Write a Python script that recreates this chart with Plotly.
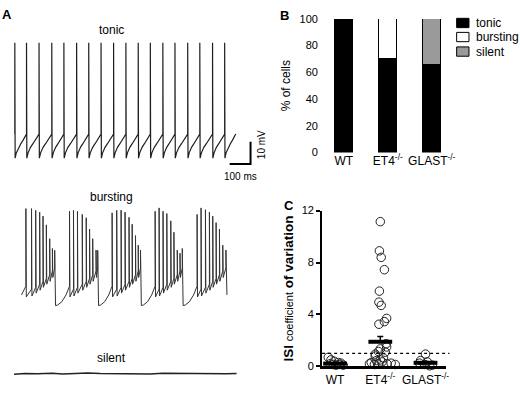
import plotly.graph_objects as go

W, H = 520, 396

# ---------------- Panel A : recordings (ms / mV) ----------------
tonic_spike_ms = [71, 127, 187, 248, 306, 367, 425, 484, 544, 603, 662, 720, 780, 838, 899, 957, 1018, 1076]
tonic_end_ms = 1129
tonic_peak_mV = 5.0
tonic_threshold_mV = -35.9
tonic_trough_mV = -46.7
ramp_shape_t = [0.0, 0.1, 0.3, 0.5, 0.7, 0.9, 1.0]
ramp_shape_v = [0.0, 0.22, 0.45, 0.6, 0.75, 0.92, 1.0]

burst_spike_ms = [
    [124, 151, 171, 190, 206, 222, 238, 251, 262],
    [333, 352, 371, 394, 413, 429, 444, 460, 468],
    [537, 559, 580, 599, 618, 633, 649, 662, 673],
    [743, 762, 781, 799, 818, 833, 849, 862, 873],
    [944, 963, 984, 1003, 1019, 1035, 1051, 1067, 1082],
]
burst_peak_mV = [
    [4.6, 4.6, 3.8, 3.0, 1.2, -2.7, -8.9, -13.3, -14.1],
    [3.4, 3.8, 3.4, 2.0, 0.5, -4.6, -8.9, -14.0, -14.1],
    [2.7, 3.8, 3.9, 3.0, 0.7, -2.4, -7.5, -11.8, -14.0],
    [3.4, 4.9, 3.4, 2.4, -0.9, -6.0, -14.0, -15.4, -13.3],
    [2.0, 4.9, 4.1, 3.0, 1.2, -1.7, -4.6, -11.8, -14.0],
]
burst_base_mV = [-30.2, -31.5, -30.7, -29.3, -28.0, -26.7, -25.0, -23.3, -22.0]
burst_trough_mV = [-35.0, -34.6, -33.3, -32.0, -30.7, -29.3, -28.0, -26.3, -38.9]
burst_start_ms, burst_start_mV = 103, -34.1
burst_end_ms, burst_end_mV = 1087, -34.1
interburst_shape_t = [0.15, 0.45, 0.75]
interburst_shape_v = [0.03, 0.2, 0.55]

silent_ms = [67, 120, 180, 250, 300, 360, 420, 480, 540, 600, 660, 720, 780, 840, 900, 960, 1020, 1080, 1133]
silent_mV = [-49.9, -49.6, -49.7, -49.5, -49.8, -49.6, -49.4, -49.6, -49.7, -49.5,
             -49.6, -49.8, -49.5, -49.6, -49.7, -49.5, -49.6, -49.7, -49.6]

scalebar_ms = 100
scalebar_mV = 10

# ---------------- Panel B : firing pattern (% of cells) ----------------
genotype_labels = ["WT", "ET4<sup>-/-</sup>", "GLAST<sup>-/-</sup>"]
pct_tonic = [100, 70, 66]
pct_bursting = [0, 30, 0]
pct_silent = [0, 0, 34]
pattern_names = ["tonic", "bursting", "silent"]
pattern_colors = ["black", "white", "#9a9a9a"]

# ---------------- Panel C : ISI coefficient of variation ----------------
wt_cv = [0.7, 0.5, 0.4, 0.3, 0.25, 0.2, 0.15, 0.15, 0.1, 0.1]
wt_jitter = [-0.15, -0.09, -0.02, 0.07, 0.13, -0.11, -0.04, 0.09, 0.18, 0.02]
et4_cv = [11.15, 8.9, 8.4, 7.45, 5.8, 4.95, 4.7, 3.7, 3.45, 3.25, 1.75, 1.5, 1.35, 1.15,
          1.1, 0.95, 0.8, 0.65, 0.5, 0.45, 0.35, 0.3, 0.25, 0.2, 0.2, 0.18, 0.15, 0.15]
et4_jitter = [0, -0.02, 0.02, 0.09, -0.02, -0.03, 0.02, 0.14, 0.09, -0.03, 0.13, 0.14, 0, -0.04,
              0.11, -0.11, -0.11, 0.07, 0, -0.09, 0.04, -0.2, 0.24, -0.24, 0.15, -0.04, 0.33, -0.13]
glast_cv = [0.95, 0.45, 0.35, 0.25, 0.15, 0.1, 0.05]
glast_jitter = [0, -0.11, 0.04, -0.13, -0.02, 0.15, 0.09]
cv_mean = [0.22, 1.9, 0.28]
cv_sem = [0.03, 0.4, 0.1]
cv_threshold = 1.0
cv_ticks = [0, 4, 8, 12]


def px_x(p):
    return p / W


def px_y(p):
    return 1 - p / H


PX_PER_MS = 0.21
PX_PER_MV = 2.3
FONT = "Liberation Sans, Arial, sans-serif"

fig = go.Figure()

# tonic trace
tx, ty = [], []
cycle_next = tonic_spike_ms[1:] + [tonic_end_ms]
for t, t_next in zip(tonic_spike_ms, cycle_next):
    tx += [t, t, t + 1.5]
    ty += [tonic_threshold_mV, tonic_peak_mV, tonic_trough_mV]
    t0 = t + 1.5
    for ft, fv in zip(ramp_shape_t[1:-1], ramp_shape_v[1:-1]):
        tx.append(t0 + ft * (t_next - t0))
        ty.append(tonic_trough_mV + fv * (tonic_threshold_mV - tonic_trough_mV))
tx.append(tonic_end_ms)
ty.append(tonic_threshold_mV)
fig.add_trace(go.Scatter(x=tx, y=ty, mode="lines", line=dict(color="#1e1e1e", width=1.2),
                         xaxis="x", yaxis="y", hoverinfo="skip"))

# scale bar (in tonic axes)
sb_x1 = 1200
sb_y0 = -49.35
fig.add_trace(go.Scatter(x=[sb_x1 - scalebar_ms, sb_x1, sb_x1],
                         y=[sb_y0, sb_y0, sb_y0 + scalebar_mV],
                         mode="lines", line=dict(color="black", width=2),
                         xaxis="x", yaxis="y", hoverinfo="skip", cliponaxis=False))

# bursting trace
bx, by = [burst_start_ms], [burst_start_mV]
nb = len(burst_spike_ms)
for b in range(nb):
    times = burst_spike_ms[b]
    peaks = burst_peak_mV[b]
    for i, (t, pk) in enumerate(zip(times, peaks)):
        bx += [t, t]
        by += [burst_base_mV[i], pk]
        last = i == len(times) - 1
        if not last:
            bx.append(t + 2)
            by.append(burst_trough_mV[i])
        elif b < nb - 1:
            t0 = t + 4
            bx.append(t0)
            by.append(burst_trough_mV[i])
            t1 = burst_spike_ms[b + 1][0]
            for ft, fv in zip(interburst_shape_t, interburst_shape_v):
                bx.append(t0 + ft * (t1 - t0))
                by.append(burst_trough_mV[i] + fv * (burst_base_mV[0] - burst_trough_mV[i]))
bx.append(burst_end_ms)
by.append(burst_end_mV)
fig.add_trace(go.Scatter(x=bx, y=by, mode="lines", line=dict(color="#333", width=1),
                         xaxis="x2", yaxis="y2", hoverinfo="skip"))

# silent trace
fig.add_trace(go.Scatter(x=silent_ms, y=silent_mV, mode="lines", line=dict(color="#222", width=1.4),
                         xaxis="x3", yaxis="y3", hoverinfo="skip"))

# Panel B bars
for vals, name, col in zip([pct_tonic, pct_bursting, pct_silent], pattern_names, pattern_colors):
    fig.add_trace(go.Bar(x=genotype_labels, y=vals, name=name, width=0.414,
                         marker=dict(color=col, line=dict(color="black", width=1)),
                         xaxis="x4", yaxis="y4"))

# Panel C points
for gi, (vals, jit) in enumerate([(wt_cv, wt_jitter), (et4_cv, et4_jitter), (glast_cv, glast_jitter)]):
    fig.add_trace(go.Scatter(x=[gi + j for j in jit], y=vals, mode="markers",
                             marker=dict(symbol="circle-open", size=8.5, color="#222", line=dict(width=1)),
                             xaxis="x5", yaxis="y5", cliponaxis=False))
fig.add_trace(go.Scatter(x=[0, 1, 2], y=cv_mean, mode="markers",
                         marker=dict(symbol="line-ew", size=17, line=dict(width=4, color="black")),
                         error_y=dict(type="data", array=cv_sem, arrayminus=[0, 0, 0], symmetric=False,
                                      width=3, thickness=1.5, color="black"),
                         xaxis="x5", yaxis="y5", cliponaxis=False))

# axis ranges for panel A (same scale for all three traces)
x_range_A = [0, 273 / PX_PER_MS]


def mv_range(top_px, bottom_px, ref_px, ref_mV):
    return [ref_mV - (bottom_px - ref_px) / PX_PER_MV, ref_mV + (ref_px - top_px) / PX_PER_MV]


hidden = dict(visible=False, showgrid=False, zeroline=False)
fig.update_layout(
    width=W, height=H, autosize=False,
    margin=dict(l=0, r=0, t=0, b=0),
    paper_bgcolor="white", plot_bgcolor="rgba(0,0,0,0)",
    showlegend=False, barmode="stack",
    font=dict(family=FONT, color="black", size=11),
    xaxis=dict(domain=[0, px_x(273)], range=x_range_A, anchor="y", **hidden),
    yaxis=dict(domain=[px_y(170), px_y(30)], range=mv_range(30, 170, 38, tonic_peak_mV), anchor="x", **hidden),
    xaxis2=dict(domain=[0, px_x(273)], range=x_range_A, anchor="y2", **hidden),
    yaxis2=dict(domain=[px_y(320), px_y(195)], range=mv_range(195, 320, 208, 5.0), anchor="x2", **hidden),
    xaxis3=dict(domain=[0, px_x(273)], range=x_range_A, anchor="y3", **hidden),
    yaxis3=dict(domain=[px_y(390), px_y(370)], range=mv_range(370, 390, 379, -49.6), anchor="x3", **hidden),
    xaxis4=dict(domain=[px_x(323.75), px_x(456.35)], anchor="y4", type="category", range=[-0.5, 2.5],
                showline=False, showgrid=False, zeroline=False, ticks="", tickfont=dict(size=12)),
    yaxis4=dict(domain=[px_y(151), px_y(13.3)], anchor="x4", range=[0, 100], tickvals=[0, 20, 40, 60, 80, 100],
                showline=False, showgrid=False, zeroline=False, ticks="", tickfont=dict(size=11),
                ticklabelstandoff=3,
                title=dict(text="% of cells", font=dict(size=12), standoff=6)),
    xaxis5=dict(domain=[px_x(324), px_x(449)], anchor="y5", range=[-0.286, 2.462],
                tickvals=[0, 1, 2], ticktext=genotype_labels, ticks="",
                showline=True, linewidth=3, linecolor="black", showgrid=False, zeroline=False,
                tickfont=dict(size=12)),
    yaxis5=dict(domain=[px_y(371.7), px_y(211)], anchor="x5", range=[0, 12], tickvals=cv_ticks,
                showline=True, linewidth=2, linecolor="black", ticks="outside", ticklen=4, tickwidth=1.5,
                tickcolor="black", showgrid=False, zeroline=False, tickfont=dict(size=11),
                title=dict(text="<b>ISI</b> <span style='font-size:11px'>coefficient</span> <b>of variation</b>",
                           font=dict(size=13.5), standoff=5)),
)

fig.add_shape(type="line", xref="x5 domain", x0=0, x1=1.024, yref="y5", y0=cv_threshold, y1=cv_threshold,
              line=dict(color="black", width=1.2, dash="dot"))

# manual legend for panel B
legend_y_px = [17.5, 32, 47]
for name, col, yc in zip(pattern_names, pattern_colors, legend_y_px):
    fig.add_shape(type="rect", xref="paper", yref="paper",
                  x0=px_x(459.3), x1=px_x(471.7), y0=px_y(yc + 4.8), y1=px_y(yc - 4.8),
                  fillcolor=col, line=dict(color="black", width=1))
    fig.add_annotation(text=name, xref="paper", yref="paper", x=px_x(476.5), y=px_y(yc),
                       xanchor="left", yanchor="middle", showarrow=False, font=dict(size=12))

texts = [
    ("A", 7, 9, 13, True, 0),
    ("B", 286, 10, 13, True, 0),
    ("C", 291, 206, 13, True, 0),
    ("tonic", 112, 25, 12, False, 0),
    ("bursting", 112, 197, 12, False, 0),
    ("silent", 112, 363, 12, False, 0),
    ("10 mV", 263, 143, 10, False, -90),
    ("100 ms", 242, 176, 10, False, 0),
]
for txt, x, y, size, bold, ang in texts:
    ann = dict(text=f"<b>{txt}</b>" if bold else txt, xref="paper", yref="paper",
               x=px_x(x), y=px_y(y), xanchor="center", yanchor="middle", showarrow=False,
               font=dict(size=size))
    if ang:
        ann["textangle"] = ang
    fig.add_annotation(**ann)

fig.write_html("out.html", config={"displayModeBar": False},
               post_script="document.body.style.margin='0';")
